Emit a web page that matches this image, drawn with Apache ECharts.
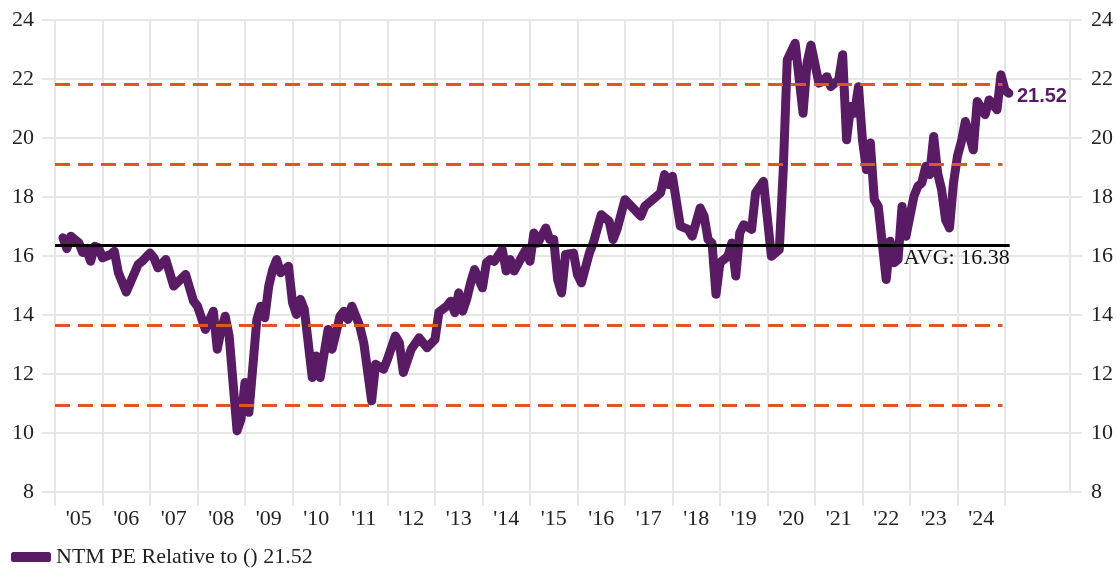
<!DOCTYPE html>
<html>
<head>
<meta charset="utf-8">
<script src="https://cdn.jsdelivr.net/npm/echarts@6/dist/echarts.min.js"></script>
<style>
  html, body { margin: 0; padding: 0; background: #fff; }
  #chart { width: 1117px; height: 568px; }
</style>
</head>
<body>
<div id="chart"></div>
<script>
// readings (YYYY-MM) and values, one row per year
const dates = [
  '2005-03','2005-04','2005-05','2005-07','2005-08','2005-09','2005-10','2005-11','2005-12',
  '2006-01','2006-03','2006-04','2006-05','2006-07','2006-08','2006-10','2006-11',
  '2007-01','2007-02','2007-03','2007-05','2007-07','2007-10','2007-12',
  '2008-01','2008-03','2008-05','2008-06','2008-07','2008-08','2008-09','2008-11','2008-12',
  '2009-01','2009-02','2009-04','2009-05','2009-06','2009-07','2009-08','2009-09','2009-10','2009-12',
  '2010-01','2010-02','2010-03','2010-04','2010-06','2010-07','2010-08','2010-10','2010-11',
  '2011-01','2011-02','2011-03','2011-04','2011-06','2011-07','2011-09','2011-10','2011-12',
  '2012-01','2012-03','2012-04','2012-05','2012-07','2012-09','2012-11',
  '2013-01','2013-02','2013-04','2013-05','2013-06','2013-07','2013-08','2013-09','2013-10','2013-11',
  '2014-01','2014-02','2014-03','2014-04','2014-06','2014-07','2014-08','2014-09','2014-11','2014-12',
  '2015-01','2015-02','2015-03','2015-05','2015-06','2015-07','2015-08','2015-09','2015-10','2015-12',
  '2016-01','2016-02','2016-04','2016-05','2016-07','2016-09','2016-10','2016-11',
  '2017-01','2017-05','2017-06','2017-08','2017-10','2017-11','2017-12',
  '2018-01','2018-03','2018-05','2018-06','2018-08','2018-09','2018-10','2018-11','2018-12',
  '2019-01','2019-03','2019-04','2019-05','2019-06','2019-07','2019-09','2019-10','2019-12',
  '2020-02','2020-04','2020-05','2020-06','2020-08','2020-10','2020-11','2020-12',
  '2021-02','2021-03','2021-04','2021-05','2021-07','2021-08','2021-09','2021-10','2021-11','2021-12',
  '2022-01','2022-02','2022-03','2022-04','2022-05','2022-07','2022-08','2022-09','2022-10','2022-11','2022-12',
  '2023-02','2023-03','2023-04','2023-05','2023-06','2023-07','2023-08','2023-09','2023-10','2023-11','2023-12',
  '2024-01','2024-02','2024-03','2024-05','2024-06','2024-08','2024-09','2024-11','2024-12',
  '2025-01','2025-02'
];
const values = [
  16.62,16.25,16.67,16.45,16.12,16.2,15.82,16.33,16.28,
  15.94,16.05,16.16,15.44,14.78,15.09,15.71,15.82,
  16.1,15.94,15.6,15.88,14.98,15.37,14.47,
  14.3,13.51,14.13,12.84,13.51,13.96,13.29,10.07,10.47,
  11.71,10.7,13.85,14.3,13.91,14.98,15.54,15.88,15.43,15.65,
  14.42,14.02,14.53,14.19,11.88,12.61,11.88,13.51,12.84,
  13.96,14.13,13.85,14.3,13.62,13.06,11.09,12.33,12.16,
  12.5,13.29,13.06,12.05,12.84,13.23,12.89,
  13.17,14.1,14.3,14.47,14.08,14.75,14.13,14.53,15.09,15.54,
  14.92,15.77,15.88,15.82,16.22,15.49,15.88,15.49,15.99,16.22,
  15.82,16.78,16.44,16.95,16.56,16.56,15.2,14.75,16.05,16.1,
  15.37,15.09,16.1,16.44,17.4,17.18,16.56,16.9,
  17.91,17.35,17.68,17.91,18.14,18.76,18.42,
  18.7,17.01,16.9,16.67,17.63,17.35,16.56,16.44,14.7,
  15.77,15.99,16.44,15.32,16.78,17.06,16.9,18.14,18.53,
  15.99,16.22,18.93,22.65,23.21,20.84,22.54,23.15,
  21.86,21.91,22.08,21.74,21.97,22.82,19.94,21.07,20.84,21.74,
  19.94,18.93,19.83,17.91,17.68,15.2,16.5,15.77,15.88,17.68,16.67,
  18.02,18.36,18.48,19.04,18.76,20.05,18.81,18.25,17.23,16.95,18.48,
  19.38,19.88,20.56,19.6,21.24,20.79,21.29,20.96,22.14,
  21.63,21.52
];
const bandValues = [21.82, 19.10, 13.66, 10.94];
const avgValue = 16.38;
const lastValue = 21.52;
const seriesName = 'NTM PE Relative to () ' + lastValue.toFixed(2);
const years = [2005,2006,2007,2008,2009,2010,2011,2012,2013,2014,2015,2016,2017,2018,2019,2020,2021,2022,2023,2024];

const purple = '#581b64';
const orange = '#e0561f';
const gridGray = '#e6e6e6';
const serif = 'Liberation Serif';

const points = dates.map((d, i) => {
  const [y, m] = d.split('-').map(Number);
  return [y + (m - 1) / 12, values[i]];
});

const chart = echarts.init(document.getElementById('chart'));

const bandLines = bandValues.map(v => [
  { coord: [2005, v], lineStyle: { color: orange, width: 3, type: [15, 8] } },
  { coord: [2024.95, v] }
]);

const option = {
  animation: false,
  backgroundColor: '#fff',
  grid: { left: 55, right: 47, top: 20, bottom: 76 },
  legend: {
    left: 6, top: 541,
    icon: 'roundRect', itemWidth: 40, itemHeight: 10, itemGap: 8,
    textStyle: { fontFamily: serif, fontSize: 22, color: '#222' },
    data: [seriesName]
  },
  xAxis: {
    type: 'value',
    min: 2005, max: 2026.37, interval: 1,
    axisLine: { show: false },
    axisTick: {
      show: true, length: 14,
      lineStyle: { color: gridGray, width: 2 },
      customValues: years.concat([2025])
    },
    splitLine: { show: true, lineStyle: { color: gridGray, width: 2 } },
    axisLabel: {
      customValues: years.map(y => y + 0.5),
      formatter: v => "'" + String(Math.floor(v)).slice(2),
      margin: 16,
      fontFamily: serif, fontSize: 22, color: '#222'
    }
  },
  yAxis: [
    {
      type: 'value', position: 'left', min: 8, max: 24, interval: 2,
      axisLine: { show: false },
      axisTick: { show: true, length: 13, lineStyle: { color: gridGray, width: 2 } },
      splitLine: { lineStyle: { color: gridGray, width: 2 } },
      axisLabel: { margin: 21, fontFamily: serif, fontSize: 22, color: '#222' }
    },
    {
      type: 'value', position: 'right', min: 8, max: 24, interval: 2,
      axisLine: { show: true, lineStyle: { color: gridGray, width: 2 } },
      axisTick: { show: true, length: 12, lineStyle: { color: gridGray, width: 2 } },
      splitLine: { show: false },
      axisLabel: { margin: 21, fontFamily: serif, fontSize: 22, color: '#222' }
    }
  ],
  series: [
    {
      name: seriesName,
      type: 'line',
      data: points,
      showSymbol: false,
      symbol: 'none',
      color: purple,
      lineStyle: { color: purple, width: 9, cap: 'round', join: 'round' },
      endLabel: {
        show: true,
        formatter: () => lastValue.toFixed(2),
        color: purple,
        fontFamily: 'Liberation Sans',
        fontWeight: 'bold',
        fontSize: 20,
        distance: 8,
        offset: [0, 3]
      },
      markLine: {
        silent: true,
        symbol: 'none',
        z: 10,
        data: bandLines.concat([[
          {
            coord: [2005, avgValue],
            lineStyle: { color: '#000', width: 3, type: 'solid' },
            label: {
              show: true,
              position: 'insideEndBottom',
              formatter: 'AVG: ' + avgValue.toFixed(2),
              fontFamily: serif, fontSize: 22, color: '#111',
              distance: [0, 2]
            }
          },
          { coord: [2025.1, avgValue] }
        ]]),
        label: { show: false }
      }
    }
  ]
};

chart.setOption(option);
</script>
</body>
</html>
